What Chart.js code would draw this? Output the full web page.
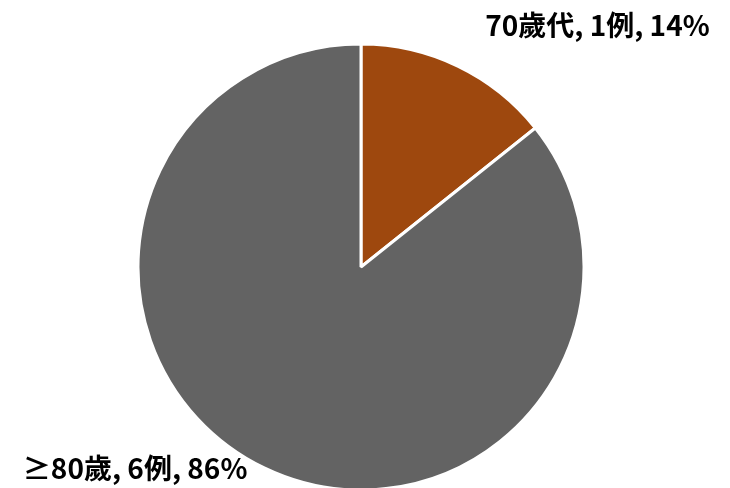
<!DOCTYPE html>
<html><head><meta charset="utf-8">
<script src="https://cdn.jsdelivr.net/npm/chart.js@4"></script>
<style>html,body{margin:0;padding:0;background:#fff}#wrap{width:730px;height:488px}</style>
</head><body><div id="wrap"><canvas id="c" width="730" height="488"></canvas></div>
<script>
const categories = ["70歲代", "≥80歲"];
const counts = [1, 6];
const percents = ["14%", "86%"];
const colors = ["#9E480E", "#636363"];

const labelPlugin = {
  id: 'outLabels',
  afterDatasetsDraw(chart) {
    const ctx = chart.ctx;
    const meta = chart.getDatasetMeta(0);
    const arc = meta.data[0];
    const cx = arc.x, cy = arc.y, r = arc.outerRadius;
    ctx.save();
    ctx.font = 'bold 28px "Noto Sans CJK TC", "Noto Sans", sans-serif';
    ctx.fillStyle = '#000';
    ctx.textBaseline = 'middle';
    const texts = categories.map((c, i) => `${c}, ${counts[i]}例, ${percents[i]}`);
    ctx.textAlign = 'center';
    ctx.fillText(texts[0], cx + r * 1.06, cy - r * 1.085);
    ctx.fillText(texts[1], cx - r * 1.013, cy + r * 0.905);
    ctx.restore();
  }
};

new Chart(document.getElementById('c'), {
  type: 'pie',
  data: {
    labels: categories,
    datasets: [{
      data: counts,
      backgroundColor: colors,
      borderColor: '#ffffff',
      borderWidth: 3
    }]
  },
  options: {
    responsive: false,
    animation: false,
    radius: 223,
    layout: { padding: { top: 46, bottom: 0, left: 0, right: 8 } },
    plugins: { legend: { display: false }, tooltip: { enabled: false } }
  },
  plugins: [labelPlugin]
});
</script></body></html>
